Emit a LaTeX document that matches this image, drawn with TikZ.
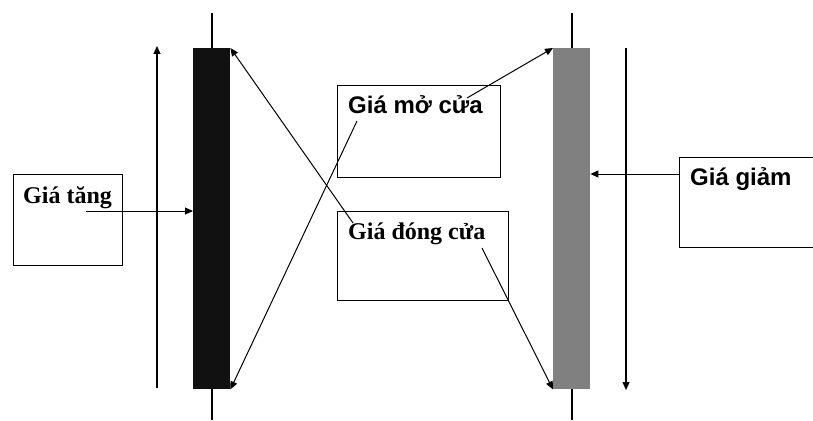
\documentclass[tikz,border=0pt]{standalone}
\usepackage{fontspec}
\setmainfont{Liberation Serif}
\newfontfamily\arialfont{Liberation Sans}
\usetikzlibrary{arrows.meta,positioning}

\begin{document}
\begin{tikzpicture}[x=1pt, y=-1pt,
  box/.style={draw, line width=1.2pt, inner sep=0pt, anchor=north west},
  bar/.style={inner sep=0pt, anchor=north west, minimum width=37pt},
  lbl/.style={anchor=base west, inner sep=0pt, font=\bfseries\fontsize{24}{28}\selectfont},
  tip/.style={line width=1pt, -{Triangle[length=8pt,width=7pt]}}]
\clip (0,0) rectangle (813,420);

% wicks
\draw[line width=2pt] (212,13) -- (212,420);
\draw[line width=2pt] (572,13) -- (572,420);

% candle bodies
\node[bar, fill={rgb,255:red,17;green,17;blue,17}, minimum height=341pt] (up) at (193,48) {};
\node[bar, fill={rgb,255:red,128;green,128;blue,128}, minimum height=341pt] (down) at (553,48) {};

% trend arrows
\coordinate (upfrom) at (157,388);
\coordinate (upto) at (157,46);
\draw[tip, line width=1.2pt] (upfrom) -- (upto);
\coordinate (downfrom) at (626,48);
\coordinate (downto) at (626,390);
\draw[tip, line width=1.2pt] (downfrom) -- (downto);

% boxes
\node[box, minimum width=109pt, minimum height=91pt] (rise) at (13,174) {};
\node[box, minimum width=163pt, minimum height=92pt] (open) at (337,85) {};
\node[box, minimum width=171pt, minimum height=89pt] (close) at (337,211) {};
\node[box, minimum width=140pt, minimum height=90pt] (fall) at (679,157) {};

\node[lbl] (riselbl) at (23,203) {Giá tăng};
\node[lbl, font=\arialfont\bfseries\fontsize{24}{28}\selectfont] (openlbl) at (348,113) {Giá mở cửa};
\node[lbl] (closelbl) at (348,239) {Giá đóng cửa};
\node[lbl, font=\arialfont\bfseries\fontsize{24}{28}\selectfont] (falllbl) at (690,185) {Giá giảm};

% pointers
\coordinate (r) at (86,211);
\draw[tip] (r) -- (r -| up.west);
\coordinate (f) at (679,174);
\draw[tip] (f) -- (f -| down.east);

\coordinate (o1) at (357,121);
\draw[tip] (o1) -- (up.south east);
\coordinate (o2) at (467,98);
\draw[tip] (o2) -- (down.north west);
\coordinate (c1) at (353,223);
\draw[tip] (c1) -- (up.north east);
\coordinate (c2) at (482,248);
\draw[tip] (c2) -- (down.south west);
\end{tikzpicture}
\end{document}
